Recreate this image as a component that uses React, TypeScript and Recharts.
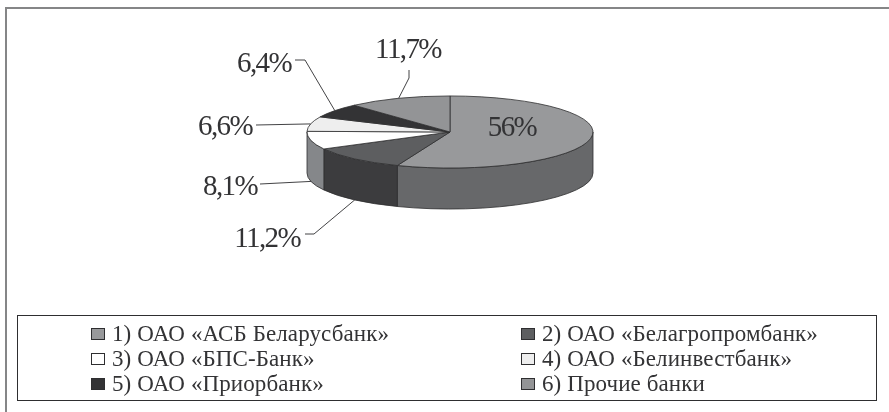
import { Legend, Pie, PieChart } from 'recharts';

const banks = [
  '1) ОАО «АСБ Беларусбанк»',
  '2) ОАО «Белагропромбанк»',
  '3) ОАО «БПС-Банк»',
  '4) ОАО «Белинвестбанк»',
  '5) ОАО «Приорбанк»',
  '6) Прочие банки',
];
const shares = [56, 11.2, 8.1, 6.6, 6.4, 11.7];
const shareLabels = ['56%', '11,2%', '8,1%', '6,6%', '6,4%', '11,7%'];

const topColors = ['#98999b', '#5d5e60', '#ffffff', '#eeeeee', '#333335', '#939496'];
const sideColors = ['#67686a', '#3c3c3e', '#85878a', '#bbbbbb', '#222222', '#666666'];

const data = banks.map((name, i) => ({
  name,
  value: shares[i],
  text: shareLabels[i],
  fill: topColors[i],
  sideFill: sideColors[i],
}));

const CX = 450;
const CY = 132;
const SQUASH = 0.252;
const DEPTH = 41;
const RAD = Math.PI / 180;
const INK = '#2e2e30';
const TEXT = '#333335';
const FONT = '"Liberation Serif", serif';

// text position (relative to pie centre) and optional elbow of each leader line
const labelLayout = [
  { x: 62, y: 4, anchor: 'middle' },
  { x: -150, y: 115, anchor: 'end', line: [[-136, 102], [-145, 102]], deep: true },
  { x: -193, y: 63, anchor: 'end', line: [[-190, 52]], deep: true },
  { x: -198, y: 3, anchor: 'end', line: [[-194, -7]] },
  { x: -159, y: -60, anchor: 'end', line: [[-145, -72], [-155, -72]] },
  { x: -42, y: -74, anchor: 'middle', line: [[-41, -54], [-41, -62]] },
];

function ellipsePoint(cx: number, cy: number, r: number, deg: number) {
  return { x: cx + r * Math.cos(deg * RAD), y: cy - r * SQUASH * Math.sin(deg * RAD) };
}

/** Sector squashed to an ellipse, with a wall for the part facing the viewer. */
function TiltedSlice(props: any) {
  const { cx, cy, outerRadius: r, startAngle, endAngle, fill, sideFill } = props;
  const ry = r * SQUASH;
  const a = ellipsePoint(cx, cy, r, startAngle);
  const b = ellipsePoint(cx, cy, r, endAngle);
  const large = Math.abs(startAngle - endAngle) > 180 ? 1 : 0;
  const top = `M${cx},${cy} L${a.x},${a.y} A${r},${ry} 0 ${large} 1 ${b.x},${b.y} Z`;

  const wallFrom = Math.min(startAngle, 0);
  const wallTo = Math.max(endAngle, -180);
  let wall = null;
  if (wallFrom > wallTo) {
    const p = ellipsePoint(cx, cy, r, wallFrom);
    const q = ellipsePoint(cx, cy, r, wallTo);
    const d = `M${p.x},${p.y} A${r},${ry} 0 0 1 ${q.x},${q.y} L${q.x},${q.y + DEPTH} A${r},${ry} 0 0 0 ${p.x},${p.y + DEPTH} Z`;
    wall = <path d={d} fill={sideFill} stroke={INK} strokeWidth={0.8} />;
  }
  return (
    <g>
      {wall}
      <path d={top} fill={fill} stroke={INK} strokeWidth={0.8} />
    </g>
  );
}

function SliceLabel(props: any) {
  const { cx, cy, outerRadius: r, midAngle, index, text } = props;
  const spec = labelLayout[index];
  const start = ellipsePoint(cx, cy, r, midAngle);
  const pts = spec.line
    ? [[start.x, start.y + (spec.deep ? DEPTH : 0)], ...spec.line.map(([x, y]) => [cx + x, cy + y])]
    : null;
  return (
    <g>
      {pts && <polyline points={pts.map((p) => p.join(',')).join(' ')} fill="none" stroke={INK} strokeWidth={0.9} />}
      <text
        x={cx + spec.x}
        y={cy + spec.y}
        textAnchor={spec.anchor}
        fontFamily={FONT}
        fontSize={29}
        letterSpacing={-1.6}
        fill={TEXT}
      >
        {text ?? shareLabels[index]}
      </text>
    </g>
  );
}

function LegendBox() {
  return (
    <div
      style={{
        display: 'grid',
        gridTemplateColumns: '430px 340px',
        gridAutoRows: 25,
        boxSizing: 'border-box',
        width: '100%',
        height: '100%',
        padding: '5px 0 0 73px',
        border: `1px solid ${INK}`,
        fontFamily: FONT,
        fontSize: 23,
        letterSpacing: 0.1,
        color: TEXT,
        background: '#fff',
      }}
    >
      {data.map((d) => (
        <div key={d.name} style={{ display: 'flex', alignItems: 'center', whiteSpace: 'nowrap' }}>
          <span
            style={{
              width: 12,
              height: 10,
              marginRight: 7,
              background: d.fill,
              border: `1px solid ${INK}`,
            }}
          />
          {d.name}
        </div>
      ))}
    </div>
  );
}

export default function App() {
  return (
    <div
      style={{
        position: 'absolute',
        left: 0,
        top: 0,
        width: 889,
        height: 412,
        overflow: 'hidden',
        background: '#fff',
        filter: 'blur(0.45px)',
      }}
    >
      <div
        style={{
          position: 'absolute',
          left: 5,
          top: 7,
          width: 884,
          height: 405,
          borderLeft: '2px solid #858687',
          borderTop: '2px solid #858687',
        }}
      />
      <PieChart
        width={889}
        height={412}
        margin={{ top: 0, right: 0, bottom: 0, left: 0 }}
        style={{ position: 'absolute', left: 0, top: 0 }}
      >
        <Pie
          data={data}
          dataKey="value"
          nameKey="name"
          cx={CX}
          cy={CY}
          innerRadius={0}
          outerRadius={143}
          startAngle={90}
          endAngle={-270}
          paddingAngle={0}
          shape={TiltedSlice}
          label={SliceLabel}
          labelLine={false}
          isAnimationActive={false}
        />
        <Legend
          content={LegendBox}
          wrapperStyle={{ left: 17, top: 315, bottom: 'auto', width: 860, height: 86 }}
        />
      </PieChart>
    </div>
  );
}
